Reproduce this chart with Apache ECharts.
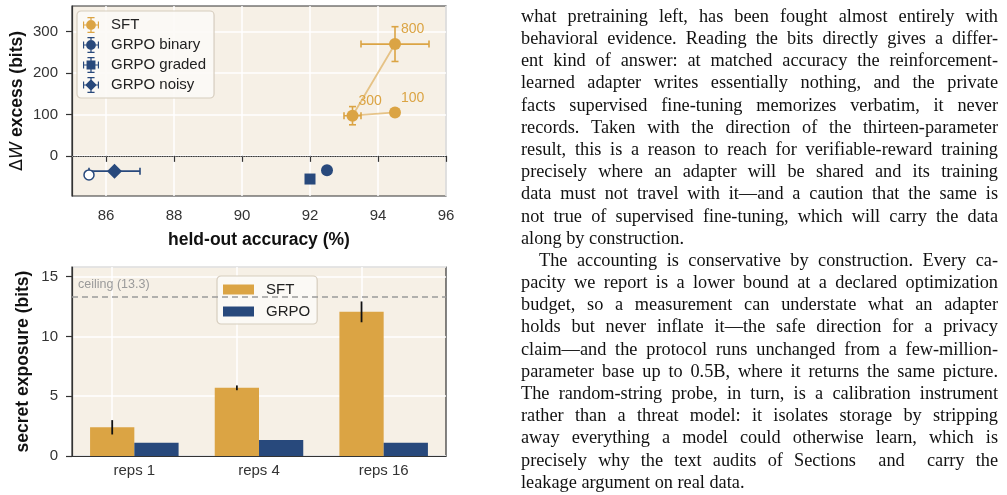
<!DOCTYPE html>
<html>
<head>
<meta charset="utf-8">
<script src="https://cdn.jsdelivr.net/npm/echarts@6/dist/echarts.min.js"></script>
<style>
html, body { margin: 0; padding: 0; background: #fff; }
#chart { width: 1007px; height: 495px; }
</style>
</head>
<body>
<div id="chart"></div>
<script>
(function () {
    'use strict';

    // top panel: held-out accuracy vs. excess bits
    var sftBudgets = ['100', '300', '800'];
    var sftAccuracy = [94.5, 93.25, 94.5];
    var sftAccuracyErr = [0, 0.25, 1.0];
    var sftExcess = [105, 97, 270];
    var sftExcessErr = [0, 22, 42];

    var grpoBinary = [92.5, -35];
    var grpoGraded = [92.0, -56];
    var grpoNoisy = [86.25, -37];
    var grpoNoisyErr = [0.75, 4];
    var grpoOpenRun = [85.5, -46];

    var accuracyTicks = [86, 88, 90, 92, 94, 96];
    var excessTicks = [0, 100, 200, 300];

    // bottom panel: secret exposure by repetitions
    var repCategories = ['reps 1', 'reps 4', 'reps 16'];
    var sftExposure = [2.4, 5.7, 12.05];
    var sftExposureErr = [0.6, 0.2, 0.87];
    var grpoExposure = [1.1, 1.33, 1.1];
    var exposureCeiling = 13.3;

    // body text beside the figure
    var bodyLines = [
        'what pretraining left, has been fought almost entirely with',
        'behavioral evidence. Reading the bits directly gives a differ-',
        'ent kind of answer: at matched accuracy the reinforcement-',
        'learned adapter writes essentially nothing, and the private',
        'facts supervised fine-tuning memorizes verbatim, it never',
        'records. Taken with the direction of the thirteen-parameter',
        'result, this is a reason to reach for verifiable-reward training',
        'precisely where an adapter will be shared and its training',
        'data must not travel with it\u2014and a caution that the same is',
        'not true of supervised fine-tuning, which will carry the data',
        'along by construction.',
        'The accounting is conservative by construction. Every ca-',
        'pacity we report is a lower bound at a declared optimization',
        'budget, so a measurement can understate what an adapter',
        'holds but never inflate it\u2014the safe direction for a privacy',
        'claim\u2014and the protocol runs unchanged from a few-million-',
        'parameter base up to 0.5B, where it returns the same picture.',
        'The random-string probe, in turn, is a calibration instrument',
        'rather than a threat model: it isolates storage by stripping',
        'away everything a model could otherwise learn, which is',
        'precisely why the text audits of Sections  and  carry the',
        'leakage argument on real data.'
    ];
    var paragraphLastLines = [10, 21];
    var paragraphFirstLines = [11];

    var ORANGE = '#DBA444';
    var NAVY = '#28497C';
    var BG = '#F6F0E6';
    var SPINE = '#333333';
    var SANS = 'Liberation Sans';

    var iconCross = ' M1 9.3L19 9.3L19 10.7L1 10.7Z M9.3 1L10.7 1L10.7 19L9.3 19Z' +
        ' M1 6L2.3 6L2.3 14L1 14Z M17.7 6L19 6L19 14L17.7 14Z' +
        ' M6 1L14 1L14 2.3L6 2.3Z M6 17.7L14 17.7L14 19L6 19Z';
    var iconCircle = 'path://M15.5 10A5.5 5.5 0 1 1 4.5 10A5.5 5.5 0 1 1 15.5 10Z' + iconCross;
    var iconSquare = 'path://M5 5L15 5L15 15L5 15Z' + iconCross;
    var iconDiamond = 'path://M10 3.5L16.5 10L10 16.5L3.5 10Z' + iconCross;

    function errorBars(color, width) {
        return function (params, api) {
            var x = api.value(0), y = api.value(1);
            var ex = api.value(2), ey = api.value(3);
            var c = api.coord([x, y]);
            var cap = 3.5;
            var style = { stroke: color, lineWidth: width };
            var kids = [];
            function seg(x1, y1, x2, y2) {
                kids.push({ type: 'line', shape: { x1: x1, y1: y1, x2: x2, y2: y2 }, style: style });
            }
            if (ex > 0) {
                var l = api.coord([x - ex, y])[0], r = api.coord([x + ex, y])[0];
                seg(l, c[1], r, c[1]);
                seg(l, c[1] - cap, l, c[1] + cap);
                seg(r, c[1] - cap, r, c[1] + cap);
            }
            if (ey > 0) {
                var t = api.coord([x, y + ey])[1], b = api.coord([x, y - ey])[1];
                seg(c[0], t, c[0], b);
                seg(c[0] - cap, t, c[0] + cap, t);
                seg(c[0] - cap, b, c[0] + cap, b);
            }
            return { type: 'group', children: kids };
        };
    }

    var sftPoints = sftAccuracy.map(function (a, i) { return [a, sftExcess[i]]; });
    var sftErrData = sftAccuracy.map(function (a, i) {
        return [a, sftExcess[i], sftAccuracyErr[i], sftExcessErr[i]];
    });
    var sftBarErrData = sftExposure.map(function (v, i) { return [i, v, sftExposureErr[i]]; });

    // body text, justified word by word
    var measure = document.createElement('canvas').getContext('2d');
    var BODY_SIZE = 18.3;
    measure.font = BODY_SIZE + 'px "Liberation Serif"';
    var textLeft = 521, textRight = 998, firstLineY = 17, lineStep = 22.19, indent = 18;
    var bodyGraphic = [];
    bodyLines.forEach(function (line, i) {
        var words = line.split(' ');
        var x0 = textLeft + (paragraphFirstLines.indexOf(i) >= 0 ? indent : 0);
        var widths = words.map(function (w) { return measure.measureText(w).width; });
        var total = widths.reduce(function (s, w) { return s + w; }, 0);
        var gap = paragraphLastLines.indexOf(i) >= 0
            ? measure.measureText(' ').width
            : (textRight - x0 - total) / (words.length - 1);
        var x = x0;
        words.forEach(function (w, k) {
            if (w) {
                bodyGraphic.push({
                    type: 'text', x: x, y: firstLineY + i * lineStep, silent: true,
                    style: {
                        text: w, fontSize: BODY_SIZE, fontFamily: 'Liberation Serif',
                        fill: '#111', align: 'left', verticalAlign: 'middle'
                    }
                });
            }
            x += widths[k] + gap;
        });
    });

    var axisLabelStyle = { color: SPINE, fontSize: 15, fontFamily: SANS };
    var axisTitleStyle = { color: '#111', fontSize: 17.5, fontWeight: 'bold', fontFamily: SANS };
    var whiteGrid = { show: true, lineStyle: { color: '#fff', width: 1.5 } };
    var spine = { show: true, lineStyle: { color: SPINE, width: 1.2 } };
    var ticksOut = { show: true, length: 6, lineStyle: { color: SPINE, width: 1.2 } };

    var option = {
        animation: false,
        backgroundColor: '#fff',
        textStyle: { fontFamily: SANS },
        grid: [
            { left: 72, top: 6, width: 374, height: 190, show: true, backgroundColor: BG, borderColor: SPINE, borderWidth: 1.2 },
            { left: 72, top: 267, width: 374, height: 189, show: true, backgroundColor: BG, borderColor: SPINE, borderWidth: 1.2 }
        ],
        xAxis: [
            {
                type: 'value', gridIndex: 0, min: 85, max: 96,
                name: 'held-out accuracy (%)', nameLocation: 'middle', nameGap: 35,
                nameTextStyle: axisTitleStyle,
                axisLine: spine,
                axisTick: Object.assign({ customValues: accuracyTicks }, ticksOut),
                axisLabel: Object.assign({ customValues: accuracyTicks, margin: 12 }, axisLabelStyle),
                splitLine: whiteGrid
            },
            {
                type: 'category', gridIndex: 1, data: repCategories,
                axisLine: spine,
                axisTick: { show: false },
                axisLabel: Object.assign({ margin: 7 }, axisLabelStyle),
                splitLine: { show: false }
            }
        ],
        yAxis: [
            {
                type: 'value', gridIndex: 0, min: -97, max: 362,
                name: '{d|\u0394}{w|W}{b| excess (bits)}', nameLocation: 'middle', nameGap: 46,
                nameTextStyle: {
                    rich: {
                        d: { fontSize: 17.5, fontFamily: 'DejaVu Sans', color: '#111' },
                        w: { fontSize: 17.5, fontFamily: 'DejaVu Sans', fontStyle: 'italic', color: '#111' },
                        b: axisTitleStyle
                    }
                },
                axisLine: spine,
                axisTick: Object.assign({ customValues: excessTicks }, ticksOut),
                axisLabel: Object.assign({ customValues: excessTicks, margin: 14 }, axisLabelStyle),
                splitLine: whiteGrid
            },
            {
                type: 'value', gridIndex: 1, min: 0, max: 15.8, interval: 5,
                name: 'secret exposure (bits)', nameLocation: 'middle', nameGap: 40,
                nameTextStyle: axisTitleStyle,
                axisLine: spine,
                axisTick: ticksOut,
                axisLabel: Object.assign({ margin: 14, showMaxLabel: false }, axisLabelStyle),
                splitLine: whiteGrid
            }
        ],
        legend: [
            {
                orient: 'vertical', left: 77, top: 11,
                padding: [6, 8, 5, 6], itemGap: 4, itemWidth: 16, itemHeight: 16,
                backgroundColor: 'rgba(252,250,246,0.9)', borderColor: '#D6CDBE', borderWidth: 1.2, borderRadius: 4,
                textStyle: { fontSize: 15, color: '#222', fontFamily: SANS, padding: [0, 0, 0, 7] },
                data: [
                    { name: 'SFT', icon: iconCircle },
                    { name: 'GRPO binary', icon: iconCircle },
                    { name: 'GRPO graded', icon: iconSquare },
                    { name: 'GRPO noisy', icon: iconDiamond }
                ]
            },
            {
                orient: 'vertical', left: 217, top: 276,
                padding: [6, 7, 5, 6], itemGap: 7, itemWidth: 31, itemHeight: 10,
                backgroundColor: 'rgba(252,250,246,0.9)', borderColor: '#D6CDBE', borderWidth: 1.2, borderRadius: 4,
                textStyle: { fontSize: 15, color: '#222', fontFamily: SANS, padding: [0, 0, 0, 7] },
                data: [
                    { name: 'SFT', icon: 'rect' },
                    { name: 'GRPO', icon: 'rect' }
                ]
            }
        ],
        graphic: bodyGraphic,
        series: [
            {
                name: 'SFT trend', type: 'line', xAxisIndex: 0, yAxisIndex: 0,
                data: sftPoints, symbol: 'none', z: 2,
                lineStyle: { color: ORANGE, width: 1.8, opacity: 0.6 }
            },
            {
                name: 'SFT error', type: 'custom', xAxisIndex: 0, yAxisIndex: 0, z: 3,
                renderItem: errorBars(ORANGE, 1.6), data: sftErrData, encode: { x: 0, y: 1 }
            },
            {
                name: 'SFT', type: 'scatter', xAxisIndex: 0, yAxisIndex: 0, z: 4,
                data: sftPoints, symbol: 'circle', symbolSize: 12,
                itemStyle: { color: ORANGE, opacity: 1 },
                label: {
                    show: true, position: [12, -8.5], align: 'left', verticalAlign: 'middle',
                    color: ORANGE, fontSize: 14, fontFamily: SANS,
                    formatter: function (p) { return sftBudgets[p.dataIndex]; }
                }
            },
            {
                name: 'GRPO binary', type: 'scatter', xAxisIndex: 0, yAxisIndex: 0, z: 4,
                data: [grpoBinary], symbol: 'circle', symbolSize: 12,
                itemStyle: { color: NAVY, opacity: 1 }
            },
            {
                name: 'GRPO graded', type: 'scatter', xAxisIndex: 0, yAxisIndex: 0, z: 4,
                data: [grpoGraded], symbol: 'rect', symbolSize: 11,
                itemStyle: { color: NAVY, opacity: 1 },
                markLine: {
                    silent: true, symbol: 'none', label: { show: false }, z: 1,
                    lineStyle: { type: 'dotted', color: '#8C8C8C', width: 1.2 },
                    data: [{ yAxis: 0 }]
                }
            },
            {
                name: 'GRPO noisy error', type: 'custom', xAxisIndex: 0, yAxisIndex: 0, z: 3,
                renderItem: errorBars(NAVY, 1.6),
                data: [[grpoNoisy[0], grpoNoisy[1], grpoNoisyErr[0], grpoNoisyErr[1]]],
                encode: { x: 0, y: 1 }
            },
            {
                name: 'GRPO noisy', type: 'scatter', xAxisIndex: 0, yAxisIndex: 0, z: 4,
                data: [grpoNoisy], symbol: 'diamond', symbolSize: 15,
                itemStyle: { color: NAVY, opacity: 1 }
            },
            {
                name: 'GRPO open run', type: 'scatter', xAxisIndex: 0, yAxisIndex: 0, z: 5,
                data: [grpoOpenRun], symbol: 'circle', symbolSize: 10,
                itemStyle: { color: '#fff', borderColor: NAVY, borderWidth: 1.5, opacity: 1 }
            },
            {
                name: 'SFT', type: 'bar', xAxisIndex: 1, yAxisIndex: 1, z: 2,
                data: sftExposure, barGap: '0%', barCategoryGap: '29%',
                itemStyle: { color: ORANGE },
                markLine: {
                    silent: true, symbol: 'none', z: 1, label: { show: false },
                    lineStyle: { type: 'solid', color: '#fff', width: 1.5 },
                    data: repCategories.map(function (c) { return { xAxis: c }; })
                }
            },
            {
                name: 'GRPO', type: 'bar', xAxisIndex: 1, yAxisIndex: 1, z: 2,
                data: grpoExposure, barGap: '0%', barCategoryGap: '29%',
                itemStyle: { color: NAVY },
                markLine: {
                    silent: true, symbol: 'none',
                    lineStyle: { type: [6, 4], color: '#9A9A9A', width: 1.5 },
                    label: {
                        show: true, position: 'insideStartTop', distance: 6,
                        formatter: 'ceiling (' + exposureCeiling + ')',
                        color: '#9A9A9A', fontSize: 12.5, fontFamily: SANS
                    },
                    data: [{ yAxis: exposureCeiling }]
                }
            },
            {
                name: 'SFT exposure error', type: 'custom', xAxisIndex: 1, yAxisIndex: 1, z: 5,
                data: sftBarErrData, encode: { x: 0, y: 1 },
                renderItem: function (params, api) {
                    var idx = api.value(0), v = api.value(1), e = api.value(2);
                    var band = api.size([1, 0])[0];
                    var dx = -band * (1 - 0.29) / 4;
                    var top = api.coord([idx, v + e]), bot = api.coord([idx, v - e]);
                    return {
                        type: 'line',
                        shape: { x1: top[0] + dx, y1: top[1], x2: bot[0] + dx, y2: bot[1] },
                        style: { stroke: '#111', lineWidth: 1.8 }
                    };
                }
            }
        ]
    };

    var chart = echarts.init(document.getElementById('chart'));
    chart.setOption(option);
})();
</script>
</body>
</html>
